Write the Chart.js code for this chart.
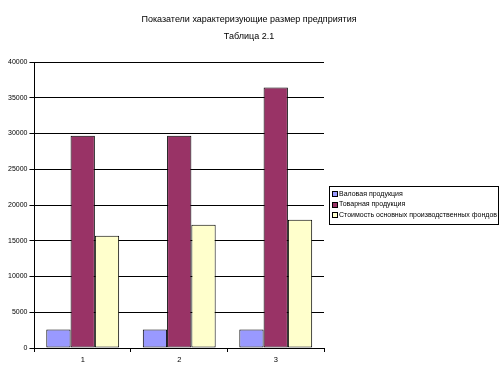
<!DOCTYPE html>
<html><head><meta charset="utf-8">
<script src="https://cdn.jsdelivr.net/npm/chart.js@4"></script>
<style>html,body{margin:0;padding:0;background:#fff}#w{width:501px;height:377px}</style>
</head><body><div id="w"><canvas id="c" width="501" height="377"></canvas></div>
<script>
const titleLines = ["Показатели характеризующие размер предприятия", "Таблица 2.1"];
const categories = ["1", "2", "3"];
const seriesNames = ["Валовая продукция", "Товарная продукция", "Стоимость основных производственных фондов"];
const grossOutput = [2600, 2600, 2600];
const commodityOutput = [29700, 29700, 36450];
const fixedAssets = [15700, 17250, 17950];
const seriesColors = ["#9999FF", "#993366", "#FFFFCC"];
const yMax = 40000, yStep = 5000;

const FONT = "'Liberation Sans', Arial, sans-serif";

const titlePlugin = {
  id: 'centerTitle',
  afterDraw(chart) {
    const ctx = chart.ctx;
    ctx.save();
    ctx.font = "9px " + FONT;
    ctx.fillStyle = '#000';
    ctx.textAlign = 'center';
    ctx.textBaseline = 'middle';
    titleLines.forEach((t, i) => ctx.fillText(t, 249, 20 + i * 17));
    ctx.restore();
  }
};

const legendPlugin = {
  id: 'boxLegend',
  afterDraw(chart) {
    const ctx = chart.ctx;
    const x0 = 329, y0 = 186, w = 169, h = 38;
    ctx.save();
    ctx.strokeStyle = '#000'; ctx.lineWidth = 1;
    ctx.strokeRect(x0 + 0.5, y0 + 0.5, w, h);
    ctx.font = "7px " + FONT;
    ctx.textBaseline = 'middle';
    chart.data.datasets.forEach((ds, i) => {
      const cy = y0 + 8 + i * 10.5;
      ctx.fillStyle = ds.backgroundColor;
      ctx.fillRect(x0 + 3, Math.round(cy) - 3, 5, 5);
      ctx.strokeRect(x0 + 3.5, Math.round(cy) - 2.5, 5, 5);
      ctx.fillStyle = '#000';
      ctx.fillText(ds.label, x0 + 10, cy);
    });
    ctx.restore();
  }
};

new Chart(document.getElementById('c'), {
  type: 'bar',
  data: {
    labels: categories,
    datasets: [
      { label: seriesNames[0], data: grossOutput, backgroundColor: seriesColors[0] },
      { label: seriesNames[1], data: commodityOutput, backgroundColor: seriesColors[1] },
      { label: seriesNames[2], data: fixedAssets, backgroundColor: seriesColors[2] }
    ].map(d => Object.assign(d, { borderColor: '#000', borderWidth: 1, borderSkipped: false, categoryPercentage: 0.755, barPercentage: 1.0 }))
  },
  options: {
    responsive: false,
    animation: false,
    devicePixelRatio: 1,
    layout: { padding: { left: 6, right: 177, top: 62, bottom: 10 } },
    plugins: {
      legend: { display: false },
      tooltip: { enabled: false },
      title: { display: false }
    },
    scales: {
      x: {
        offset: true,
        grid: { offset: true, drawOnChartArea: false, drawTicks: true, tickLength: 4, color: '#000' },
        border: { display: true, color: '#000', width: 1 },
        ticks: { color: '#000', font: { family: FONT, size: 7.5 }, padding: 3 }
      },
      y: {
        min: 0, max: yMax,
        grid: { color: '#000', lineWidth: 1, drawTicks: true, tickLength: 5 },
        border: { display: true, color: '#000', width: 1 },
        ticks: { stepSize: yStep, color: '#000', font: { family: FONT, size: 7 }, padding: 2, callback: v => String(v) }
      }
    }
  },
  plugins: [titlePlugin, legendPlugin]
});
</script>
</body></html>
